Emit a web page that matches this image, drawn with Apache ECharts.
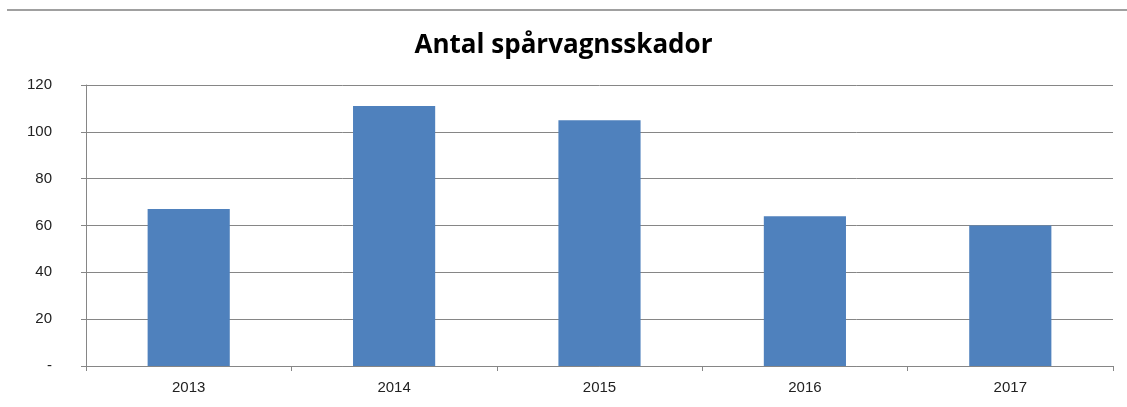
<!DOCTYPE html>
<html>
<head>
<meta charset="utf-8">
<script src="https://cdn.jsdelivr.net/npm/echarts@6/dist/echarts.min.js"></script>
<style>
  html, body { margin: 0; padding: 0; background: #fff; }
  #chart { width: 1127px; height: 407px; }
</style>
</head>
<body>
<div id="chart"></div>
<script>
var years = ['2013', '2014', '2015', '2016', '2017'];
var skador = [67, 111, 105, 64, 60];
var yTicks = [0, 20, 40, 60, 80, 100, 120];

var myChart = echarts.init(document.getElementById('chart'));

var option = {
    backgroundColor: '#fff',
    animation: false,
    title: {
        text: 'Antal spårvagnsskador',
        left: 'center',
        top: 28,
        textStyle: {
            fontFamily: 'Open Sans',
            fontWeight: 'bold',
            fontSize: 26,
            color: '#000'
        }
    },
    graphic: [{
        // cell border above the chart
        type: 'line',
        shape: { x1: 7, y1: 10, x2: 1127, y2: 10 },
        style: { stroke: '#a0a0a0', lineWidth: 2 }
    }],
    grid: {
        left: 86,
        right: 14,
        top: 85,
        bottom: 41
    },
    xAxis: {
        type: 'category',
        data: years,
        axisLine: { lineStyle: { color: '#868686', width: 1 } },
        axisTick: { show: true, length: 5, lineStyle: { color: '#868686' } },
        axisLabel: {
            margin: 14,
            fontFamily: 'Liberation Sans',
            fontSize: 15,
            color: '#222'
        }
    },
    yAxis: {
        type: 'value',
        min: yTicks[0],
        max: yTicks[yTicks.length - 1],
        interval: yTicks[1] - yTicks[0],
        axisLine: { show: true, lineStyle: { color: '#868686', width: 1 } },
        axisTick: { show: true, length: 5, lineStyle: { color: '#868686' } },
        splitLine: { lineStyle: { color: '#868686', width: 1 } },
        axisLabel: {
            margin: 34,
            fontFamily: 'Liberation Sans',
            fontSize: 15,
            color: '#222',
            formatter: function (v) {
                return v === 0 ? '-' : v;
            }
        }
    },
    series: [{
        name: 'Antal spårvagnsskador',
        type: 'bar',
        data: skador,
        barWidth: '40%',
        itemStyle: { color: '#4f81bd' }
    }]
};
myChart.setOption(option);
</script>
</body>
</html>
